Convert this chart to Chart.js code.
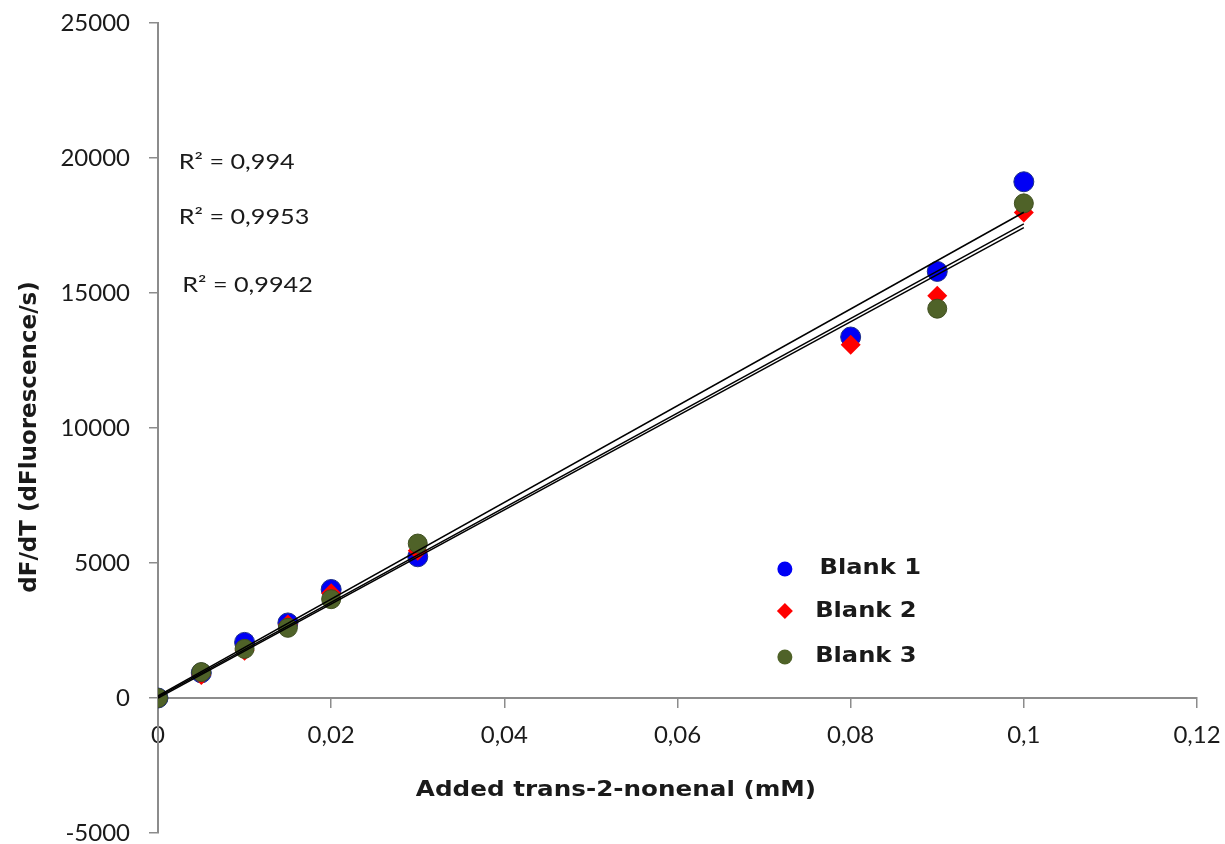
<!DOCTYPE html>
<html>
<head>
<meta charset="utf-8">
<title>dF/dT vs added trans-2-nonenal</title>
<script src="https://cdn.jsdelivr.net/npm/chart.js@4.4.1/dist/chart.umd.min.js"></script>
<style>
  html, body { margin: 0; padding: 0; background: #fff; }
  #wrap { width: 1225px; height: 844px; }
</style>
</head>
<body>
<div id="wrap"><canvas id="chart" width="1225" height="844"></canvas></div>
<script>
// --- Data ---
const concentrations = [0, 0.005, 0.01, 0.015, 0.02, 0.03, 0.08, 0.09, 0.1];
const blank1 = [0, 930, 2060, 2780, 4020, 5230, 13370, 15800, 19120];
const blank2 = [0, 850, 1750, 2720, 3880, 5450, 13080, 14900, 17980];
const blank3 = [0, 960, 1820, 2600, 3660, 5720, null, 14420, 18320];

// linear trend lines, endpoints as drawn
const trendX = [0, 0.1];
const trend1 = [80, 17990];
const trend2 = [40, 17560];
const trend3 = [0, 17420];

const rSquared = ['R² = 0,994', 'R² = 0,9953', 'R² = 0,9942'];
const seriesNames = ['Blank 1', 'Blank 2', 'Blank 3'];

const xTickLabels = ['0', '0,02', '0,04', '0,06', '0,08', '0,1', '0,12'];
const yTickLabels = ['-5000', '0', '5000', '10000', '15000', '20000', '25000'];

const COLORS = {
    blue: '#0000f5',
    red: '#ff0000',
    green: '#4f6228',
    axis: '#8c8c8c',
    text: '#1a1a1a',
};

// --- Helpers ---

function toPoints(xs, ys) {
    return xs.map((x, i) => ({ x, y: ys[i] })).filter(p => p.y != null);
}

function trendDataset(ys) {
    return {
        type: 'line',
        data: toPoints(trendX, ys),
        borderColor: '#000',
        borderWidth: 1.5,
        pointRadius: 0,
        fill: false,
        order: 0,
    };
}

// text drawn slightly wider than the font, as in the original figure
function wideText(ctx, text, px, py, stretch) {
    ctx.save();
    ctx.translate(px, py);
    ctx.scale(stretch, 1);
    ctx.fillText(text, 0, 0);
    ctx.restore();
}

// keep the plot area fixed: no extra room for overhanging tick labels
function noPadding(s) {
    s.paddingTop = 0;
    s.paddingBottom = 0;
    s.paddingLeft = 0;
    s.paddingRight = 0;
}

// text labels and legend drawn on the canvas
const annotations = {
    id: 'annotations',
    afterDatasetsDraw(chart) {
        const { ctx, scales: { x, y } } = chart;
        ctx.save();
        ctx.fillStyle = COLORS.text;
        ctx.textBaseline = 'middle';

        // R² labels
        ctx.font = '21px Lato';
        ctx.textAlign = 'left';
        const rPos = [[0.0024, 19850], [0.0024, 17820], [0.0028, 15300]];
        rSquared.forEach((t, i) =>
            wideText(ctx, t, x.getPixelForValue(rPos[i][0]), y.getPixelForValue(rPos[i][1]), 1.2));

        // legend
        const legY = [4780, 3220, 1520];
        const legTextX = [0.0764, 0.0759, 0.0759];
        const mx = x.getPixelForValue(0.0724);
        legY.forEach((v, i) => {
            const py = y.getPixelForValue(v);
            ctx.beginPath();
            if (i === 1) {
                ctx.moveTo(mx, py - 8);
                ctx.lineTo(mx + 8, py);
                ctx.lineTo(mx, py + 8);
                ctx.lineTo(mx - 8, py);
                ctx.closePath();
                ctx.fillStyle = COLORS.red;
            } else {
                ctx.arc(mx, py, 7.5, 0, Math.PI * 2);
                ctx.fillStyle = i === 0 ? COLORS.blue : COLORS.green;
            }
            ctx.fill();
            ctx.fillStyle = COLORS.text;
            ctx.font = 'bold 21px "DejaVu Sans"';
            wideText(ctx, seriesNames[i], x.getPixelForValue(legTextX[i]), py, 1.15);
        });

        // axis titles
        ctx.font = 'bold 22px "DejaVu Sans"';
        ctx.textAlign = 'center';
        wideText(ctx, 'Added trans-2-nonenal (mM)', 616, 790, 1.12);
        ctx.translate(30, 437);
        ctx.rotate(-Math.PI / 2);
        ctx.font = 'bold 23px "DejaVu Sans"';
        ctx.fillText('dF/dT (dFluorescence/s)', 0, 0);
        ctx.restore();
    }
};

// --- Chart ---

const ctx = document.getElementById('chart').getContext('2d');

new Chart(ctx, {
    type: 'scatter',
    data: {
        datasets: [
            trendDataset(trend1),
            trendDataset(trend2),
            trendDataset(trend3),
            {
                label: seriesNames[2],
                data: toPoints(concentrations, blank3),
                backgroundColor: COLORS.green,
                borderColor: '#3f4f20',
                borderWidth: 1,
                pointRadius: 9.5,
                order: 1,
            },
            {
                label: seriesNames[1],
                data: toPoints(concentrations, blank2),
                backgroundColor: COLORS.red,
                borderColor: COLORS.red,
                borderWidth: 0,
                pointStyle: 'rectRot',
                pointRadius: 10,
                order: 2,
            },
            {
                label: seriesNames[0],
                data: toPoints(concentrations, blank1),
                backgroundColor: COLORS.blue,
                borderColor: '#1c2f8a',
                borderWidth: 1,
                pointRadius: 10,
                order: 3,
            },
        ]
    },
    options: {
        responsive: false,
        animation: false,
        layout: { padding: { top: 23, bottom: 11, right: 28, left: 0 } },
        plugins: {
            legend: { display: false },
            tooltip: { enabled: false },
        },
        scales: {
            x: {
                type: 'linear',
                position: { y: 0 },
                min: 0,
                max: 0.12,
                afterFit: noPadding,
                ticks: {
                    stepSize: 0.02,
                    color: COLORS.text,
                    font: { family: 'Lato', size: 24 },
                    padding: 14,
                    maxRotation: 0,
                    callback: (v, i) => xTickLabels[i],
                },
                grid: { drawOnChartArea: false, tickLength: 9, color: COLORS.axis, lineWidth: 1.5 },
                border: { color: COLORS.axis, width: 2 },
            },
            y: {
                min: -5000,
                max: 25000,
                afterFit: s => { s.width = 158; noPadding(s); },
                ticks: {
                    stepSize: 5000,
                    color: COLORS.text,
                    font: { family: 'Lato', size: 24 },
                    padding: 19,
                    callback: (v, i) => yTickLabels[i],
                },
                grid: { drawOnChartArea: false, tickLength: 9, color: COLORS.axis, lineWidth: 1.5 },
                border: { color: COLORS.axis, width: 2 },
            }
        }
    },
    plugins: [annotations]
});
</script>
</body>
</html>
